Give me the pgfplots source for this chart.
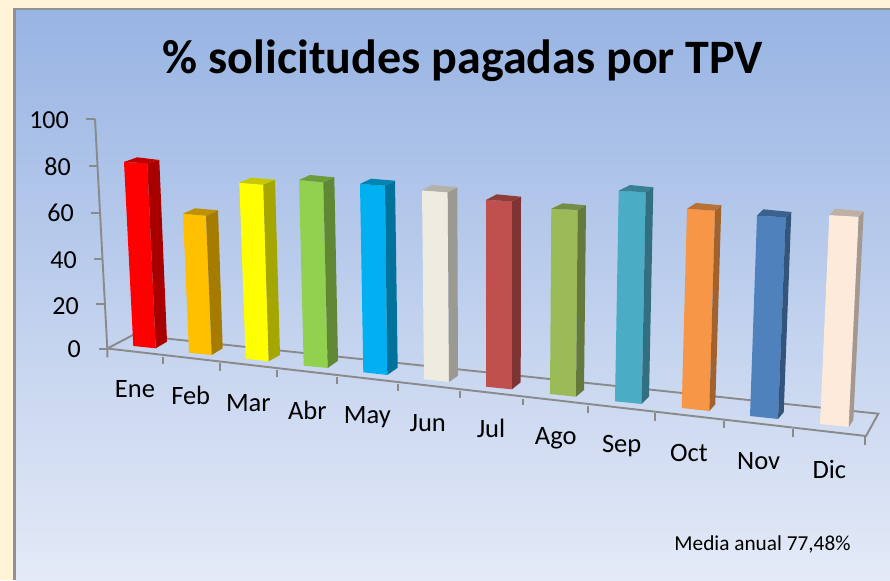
\documentclass[border=0pt]{standalone}
\usepackage{pgfplots}
\pgfplotsset{compat=1.18}
\usepackage{fontspec}
\setmainfont{Carlito}
\definecolor{cream}{HTML}{FFF4D8}
\definecolor{axgray}{HTML}{8A8A8A}
\definecolor{bgtop}{RGB}{152,180,227}
\definecolor{bgbot}{RGB}{228,234,247}
\definecolor{frameg}{RGB}{145,145,145}
\definecolor{eneF}{RGB}{255,0,0}\definecolor{eneS}{RGB}{168,0,0}\definecolor{eneT}{RGB}{192,0,0}
\definecolor{febF}{RGB}{255,192,0}\definecolor{febS}{RGB}{166,124,0}\definecolor{febT}{RGB}{191,144,0}
\definecolor{marF}{RGB}{255,255,0}\definecolor{marS}{RGB}{166,166,0}\definecolor{marT}{RGB}{200,200,0}
\definecolor{abrF}{RGB}{146,208,80}\definecolor{abrS}{RGB}{95,135,52}\definecolor{abrT}{RGB}{110,156,60}
\definecolor{mayF}{RGB}{0,176,240}\definecolor{mayS}{RGB}{0,114,156}\definecolor{mayT}{RGB}{0,132,180}
\definecolor{junF}{RGB}{238,236,225}\definecolor{junS}{RGB}{155,154,146}\definecolor{junT}{RGB}{179,177,169}
\definecolor{julF}{RGB}{192,80,77}\definecolor{julS}{RGB}{125,52,50}\definecolor{julT}{RGB}{144,60,58}
\definecolor{agoF}{RGB}{155,187,89}\definecolor{agoS}{RGB}{101,121,58}\definecolor{agoT}{RGB}{116,140,67}
\definecolor{sepF}{RGB}{75,172,198}\definecolor{sepS}{RGB}{49,111,129}\definecolor{sepT}{RGB}{56,129,149}
\definecolor{octF}{RGB}{247,150,70}\definecolor{octS}{RGB}{161,98,46}\definecolor{octT}{RGB}{185,113,53}
\definecolor{novF}{RGB}{79,129,189}\definecolor{novS}{RGB}{51,84,123}\definecolor{novT}{RGB}{59,97,142}
\definecolor{dicF}{RGB}{253,234,218}\definecolor{dicS}{RGB}{165,152,142}\definecolor{dicT}{RGB}{190,176,164}
\pgfplotsset{face/.style={fill=#1,draw=none,forget plot},
  ln/.style={draw=axgray,line width=1.9pt,forget plot}}
\begin{document}
\begin{tikzpicture}
\begin{axis}[scale only axis,width=890pt,height=580pt,xmin=0,xmax=890,ymin=0,ymax=580,y dir=reverse,hide axis]
% background
\addplot[fill=cream,draw=none,forget plot] coordinates {(0,0)(890,0)(890,580)(0,580)};
\fill[top color=bgtop,bottom color=bgbot] (axis cs:15,9) rectangle (axis cs:895,580);
\addplot[draw=frameg,line width=2.2pt,forget plot] coordinates {(14.5,580)(14.5,9.2)(890,9.2)};
% axis wall line and ticks
\addplot[ln] coordinates {(95,119)(107.3,348.5)};
\addplot[ln] coordinates {(86,119)(95,119)};
\addplot[ln] coordinates {(88.7,166.3)(97.5,166.3)};
\addplot[ln] coordinates {(90.7,212.7)(100,212.7)};
\addplot[ln] coordinates {(94,258.7)(102.5,258.7)};
\addplot[ln] coordinates {(96,304)(105,304)};
\addplot[ln] coordinates {(98.7,348.7)(107.3,348.7)};
% floor
\addplot[ln] coordinates {(107.3,357.3)(107.3,348.5)(133,335)(878.3,413.7)(866,436)(107.3,348.5)};
\addplot[ln] coordinates {(162.7,356.7)(162.7,364)};
\addplot[ln] coordinates {(219.7,363.3)(219.7,370.7)};
\addplot[ln] coordinates {(277.3,370)(277.3,377.3)};
\addplot[ln] coordinates {(336.7,377.3)(336.7,384)};
\addplot[ln] coordinates {(397.7,384.3)(397.7,391)};
\addplot[ln] coordinates {(459.7,391.3)(459.7,398)};
\addplot[ln] coordinates {(523.3,398.7)(523.3,405.3)};
\addplot[ln] coordinates {(587.7,405.5)(587.7,413)};
\addplot[ln] coordinates {(655,413.3)(655,420.7)};
\addplot[ln] coordinates {(723.7,421)(723.7,428.3)};
\addplot[ln] coordinates {(793.3,429)(793.3,436.7)};
\addplot[ln] coordinates {(865,436)(865,444.7)};
% Ene
\addplot[face=eneF] coordinates {(124,162)(147.3,163.3)(155.7,348.3)(133.3,346)};
\addplot[face=eneS] coordinates {(147.3,163.3)(159.3,160)(167,341.7)(155.7,348.3)};
\addplot[face=eneT] coordinates {(124,162)(137.3,157.3)(159.3,160)(147.3,163.3)};
% Feb
\addplot[face=febF] coordinates {(183,213.7)(206,215.7)(211.7,355)(189,352.7)};
\addplot[face=febS] coordinates {(206,215.7)(218,210.3)(222.7,348.3)(211.7,355)};
\addplot[face=febT] coordinates {(183,213.7)(195,208.3)(218,210.3)(206,215.7)};
% Mar
\addplot[face=marF] coordinates {(239.3,182.7)(263.3,184.7)(268.7,361.3)(245.7,358.7)};
\addplot[face=marS] coordinates {(263.3,184.7)(275,179.7)(280,355)(268.7,361.3)};
\addplot[face=marT] coordinates {(239.3,182.7)(251,177.7)(275,179.7)(263.3,184.7)};
% Abr
\addplot[face=abrF] coordinates {(299,180)(323.3,182.3)(327.7,368)(303.7,365.7)};
\addplot[face=abrS] coordinates {(323.3,182.3)(334.3,177.3)(338,360.7)(327.7,368)};
\addplot[face=abrT] coordinates {(299,180)(310,175)(334.3,177.3)(323.3,182.3)};
% May
\addplot[face=mayF] coordinates {(360,184)(385,185.7)(387.3,375)(363.3,372.3)};
\addplot[face=mayS] coordinates {(385,185.7)(395,180.7)(397.7,367.7)(387.3,375)};
\addplot[face=mayT] coordinates {(360,184)(371,178.7)(395,180.7)(385,185.7)};
% Jun
\addplot[face=junF] coordinates {(422,190.3)(447.7,192.3)(449,382)(424,379.3)};
\addplot[face=junS] coordinates {(447.7,192.3)(457.3,187.3)(458,375.7)(449,382)};
\addplot[face=junT] coordinates {(422,190.3)(431.7,185)(457.3,187.3)(447.7,192.3)};
% Jul
\addplot[face=julF] coordinates {(486,200)(512,201.3)(512,389.3)(486,386.7)};
\addplot[face=julS] coordinates {(512,201.3)(521,196.7)(520.7,382.3)(512,389.3)};
\addplot[face=julT] coordinates {(486,200)(496.7,194.3)(521,196.7)(512,201.3)};
% Ago
\addplot[face=agoF] coordinates {(551.3,208.7)(577.7,210)(576,396.7)(550,394)};
\addplot[face=agoS] coordinates {(577.7,210)(586,205.3)(584,390)(576,396.7)};
\addplot[face=agoT] coordinates {(551.3,208.7)(562.7,203.3)(586,205.3)(577.7,210)};
% Sep
\addplot[face=sepF] coordinates {(618.7,190.7)(645.7,192.3)(641.7,404)(615,401.3)};
\addplot[face=sepS] coordinates {(645.7,192.3)(653.3,187.3)(649,396.7)(641.7,404)};
\addplot[face=sepT] coordinates {(618.7,190.7)(630,185)(653.3,187.3)(645.7,192.3)};
% Oct
\addplot[face=octF] coordinates {(687,208.7)(715,210.7)(709.3,411)(681.7,408)};
\addplot[face=octS] coordinates {(715,210.7)(721.3,205.3)(715.3,404.3)(709.3,411)};
\addplot[face=octT] coordinates {(687,208.7)(696,203)(721.3,205.3)(715,210.7)};
% Nov
\addplot[face=novF] coordinates {(757,215.7)(785.7,217.3)(778,419)(750,416)};
\addplot[face=novS] coordinates {(785.7,217.3)(791.3,212)(783.7,412.3)(778,419)};
\addplot[face=novT] coordinates {(757,215.7)(763.3,209.3)(791.3,212)(785.7,217.3)};
% Dic
\addplot[face=dicF] coordinates {(829.3,215)(858.7,216.7)(848.7,427)(820,424)};
\addplot[face=dicS] coordinates {(858.7,216.7)(863.7,211.3)(853.3,420.3)(848.7,427)};
\addplot[face=dicT] coordinates {(829.3,215)(835.3,208.7)(863.7,211.3)(858.7,216.7)};
% text
\node[inner sep=0,font=\fontsize{48}{48}\selectfont\bfseries] at (axis cs:463,61) {\% solicitudes pagadas por TPV};
\node[inner sep=0,anchor=east,font=\fontsize{26}{26}\selectfont] at (axis cs:69,120) {100};
\node[inner sep=0,anchor=east,font=\fontsize{26}{26}\selectfont] at (axis cs:71,166.7) {80};
\node[inner sep=0,anchor=east,font=\fontsize{26}{26}\selectfont] at (axis cs:74,213) {60};
\node[inner sep=0,anchor=east,font=\fontsize{26}{26}\selectfont] at (axis cs:77,260) {40};
\node[inner sep=0,anchor=east,font=\fontsize{26}{26}\selectfont] at (axis cs:79,306) {20};
\node[inner sep=0,anchor=east,font=\fontsize{26}{26}\selectfont] at (axis cs:81,349.3) {0};
\node[inner sep=0,font=\fontsize{26.5}{26.5}\selectfont] at (axis cs:135,389) {Ene};
\node[inner sep=0,font=\fontsize{26.5}{26.5}\selectfont] at (axis cs:190.7,395.7) {Feb};
\node[inner sep=0,font=\fontsize{26.5}{26.5}\selectfont] at (axis cs:248.3,403) {Mar};
\node[inner sep=0,font=\fontsize{26.5}{26.5}\selectfont] at (axis cs:307.3,410) {Abr};
\node[inner sep=0,font=\fontsize{26.5}{26.5}\selectfont] at (axis cs:367.3,416.7) {May};
\node[inner sep=0,font=\fontsize{26.5}{26.5}\selectfont] at (axis cs:427.7,423.3) {Jun};
\node[inner sep=0,font=\fontsize{26.5}{26.5}\selectfont] at (axis cs:491,428) {Jul};
\node[inner sep=0,font=\fontsize{26.5}{26.5}\selectfont] at (axis cs:555.7,438.3) {Ago};
\node[inner sep=0,font=\fontsize{26.5}{26.5}\selectfont] at (axis cs:621.7,446) {Sep};
\node[inner sep=0,font=\fontsize{26.5}{26.5}\selectfont] at (axis cs:689,453.3) {Oct};
\node[inner sep=0,font=\fontsize{26.5}{26.5}\selectfont] at (axis cs:758.7,460.7) {Nov};
\node[inner sep=0,font=\fontsize{26.5}{26.5}\selectfont] at (axis cs:829.3,469) {Dic};
\node[inner sep=0,font=\fontsize{21.3}{21.3}\selectfont] at (axis cs:762.5,544.5) {Media anual 77,48\%};
\end{axis}
\end{tikzpicture}
\end{document}
